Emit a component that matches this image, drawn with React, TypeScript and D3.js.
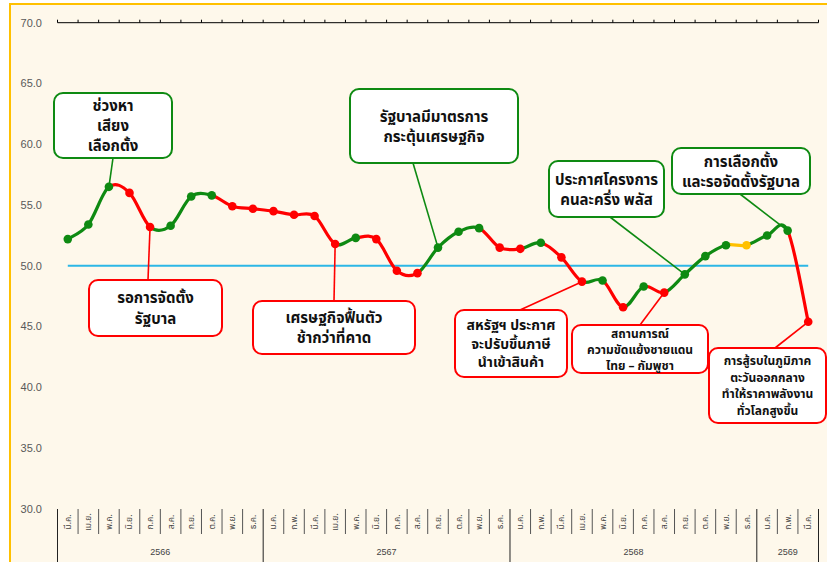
import React, { useEffect, useRef } from 'react';
import * as d3 from 'd3';

// months (Thai abbreviations), grouped by Buddhist-era year
const years = ['2566', '2567', '2568', '2569'];
const monthsByYear: string[][] = [
  ['มี.ค.', 'เม.ย.', 'พ.ค.', 'มิ.ย.', 'ก.ค.', 'ส.ค.', 'ก.ย.', 'ต.ค.', 'พ.ย.', 'ธ.ค.'],
  ['ม.ค.', 'ก.พ.', 'มี.ค.', 'เม.ย.', 'พ.ค.', 'มิ.ย.', 'ก.ค.', 'ส.ค.', 'ก.ย.', 'ต.ค.', 'พ.ย.', 'ธ.ค.'],
  ['ม.ค.', 'ก.พ.', 'มี.ค.', 'เม.ย.', 'พ.ค.', 'มิ.ย.', 'ก.ค.', 'ส.ค.', 'ก.ย.', 'ต.ค.', 'พ.ย.', 'ธ.ค.'],
  ['ม.ค.', 'ก.พ.', 'มี.ค.'],
];

const values = [
  52.2, 53.4, 56.5, 56.0, 53.2, 53.3, 55.7, 55.8, 54.9, 54.7,
  54.5, 54.2, 54.1, 51.8, 52.3, 52.2, 49.6, 49.4, 51.5, 52.8, 53.1, 51.5,
  51.4, 51.9, 50.7, 48.7, 48.8, 46.6, 48.3, 47.8, 49.3, 50.8, 51.7, 51.7,
  52.5, 52.9, 45.4,
];

const yTicks = [30, 35, 40, 45, 50, 55, 60, 65, 70];
const baseline = 50;

// annotations: index of the point, text lines, colour kind
const notes = [
  { idx: 2, lines: ['ช่วงหา', 'เสียง', 'เลือกตั้ง'], kind: 'up' },
  { idx: 4, lines: ['รอการจัดตั้ง', 'รัฐบาล'], kind: 'down' },
  { idx: 13, lines: ['เศรษฐกิจฟื้นตัว', 'ช้ากว่าที่คาด'], kind: 'down' },
  { idx: 18, lines: ['รัฐบาลมีมาตรการ', 'กระตุ้นเศรษฐกิจ'], kind: 'up' },
  { idx: 25, lines: ['สหรัฐฯ ประกาศ', 'จะปรับขึ้นภาษี', 'นำเข้าสินค้า'], kind: 'down' },
  { idx: 29, lines: ['สถานการณ์', 'ความขัดแย้งชายแดน', 'ไทย – กัมพูชา'], kind: 'down' },
  { idx: 30, lines: ['ประกาศโครงการ', 'คนละครึ่ง พลัส'], kind: 'up' },
  { idx: 35, lines: ['การเลือกตั้ง', 'และรอจัดตั้งรัฐบาล'], kind: 'up' },
  { idx: 36, lines: ['การสู้รบในภูมิภาค', 'ตะวันออกกลาง', 'ทำให้ราคาพลังงาน', 'ทั่วโลกสูงขึ้น'], kind: 'down' },
];

// box placement (x, y, w, h, font size, line gap, leader anchor on the box)
const boxes = [
  { x: 54, y: 93, w: 118, h: 65, fs: 15, lh: 20, ax: 113, ay: 158 },
  { x: 89, y: 280, w: 133, h: 56, fs: 15, lh: 21, ax: 148, ay: 280 },
  { x: 253, y: 301, w: 162, h: 53, fs: 15, lh: 20, ax: 334, ay: 301 },
  { x: 350, y: 89, w: 168, h: 74, fs: 15, lh: 20, ax: 413, ay: 163 },
  { x: 455, y: 310, w: 112, h: 67, fs: 14, lh: 18.5, ax: 520, ay: 310 },
  { x: 572, y: 325, w: 136, h: 48, fs: 12, lh: 16, ax: 640, ay: 325 },
  { x: 549, y: 161, w: 115, h: 56, fs: 15, lh: 20, ax: 610, ay: 217 },
  { x: 672, y: 148, w: 138, h: 46, fs: 15, lh: 20, ax: 740, ay: 194 },
  { x: 709, y: 348, w: 117, h: 75, fs: 12, lh: 16.5, ax: 775, ay: 348 },
];

const GREEN = '#0E8A12';
const RED = '#FF0000';
const ORANGE = '#FFC000';
const THAI_FONT = '"Noto Sans Thai", "Noto Sans", Tahoma, sans-serif';

const App: React.FC = () => {
  const svgRef = useRef<SVGSVGElement>(null);
  const width = 827;
  const height = 562;

  useEffect(() => {
    if (!svgRef.current) return;
    d3.select(svgRef.current).selectAll('*').remove();

    const svg = d3.select(svgRef.current);

    // frame
    svg.append('rect')
      .attr('x', 10).attr('y', 4)
      .attr('width', width).attr('height', height)
      .attr('fill', '#FEF8EB')
      .attr('stroke', '#FFC000')
      .attr('stroke-width', 2);

    const labels = monthsByYear.flat();
    const x = d3.scaleBand<number>()
      .domain(d3.range(labels.length))
      .range([57.5, 818.5]);
    const y = d3.scaleLinear().domain([30, 70]).range([509, 22.7]);
    const cx = (i: number) => (x(i) as number) + x.bandwidth() / 2;

    // y labels
    svg.append('g').selectAll('text')
      .data(yTicks)
      .join('text')
      .attr('x', 42)
      .attr('y', d => y(d))
      .attr('dy', '0.35em')
      .attr('text-anchor', 'end')
      .style('font-family', 'Liberation Sans, Arial, sans-serif')
      .style('font-size', '11px')
      .style('fill', '#595959')
      .text(d => d.toFixed(1));

    // top border with ticks
    svg.append('line')
      .attr('x1', x.range()[0]).attr('x2', x.range()[1])
      .attr('y1', y(70)).attr('y2', y(70))
      .attr('stroke', '#000').attr('stroke-width', 1);
    svg.append('g').selectAll('line')
      .data(d3.range(labels.length + 1))
      .join('line')
      .attr('x1', d => x.range()[0] + d * x.step())
      .attr('x2', d => x.range()[0] + d * x.step())
      .attr('y1', y(70) - 3).attr('y2', y(70))
      .attr('stroke', '#000').attr('stroke-width', 1);

    // bottom multi-level category axis
    const yearStarts: number[] = [];
    let acc = 0;
    monthsByYear.forEach(m => { yearStarts.push(acc); acc += m.length; });
    yearStarts.push(acc);

    const axisTop = y(30);
    const bx = (i: number) => x.range()[0] + i * x.step();
    svg.append('g').selectAll('line')
      .data(d3.range(labels.length + 1))
      .join('line')
      .attr('x1', d => bx(d)).attr('x2', d => bx(d))
      .attr('y1', axisTop)
      .attr('y2', d => (yearStarts.includes(d) ? height : axisTop + 25))
      .attr('stroke', d => (yearStarts.includes(d) ? '#222' : '#555'))
      .attr('stroke-width', 1);

    svg.append('g').selectAll('text')
      .data(labels)
      .join('text')
      .attr('transform', (_, i) => `translate(${cx(i) + 3},${axisTop + 13}) rotate(-90)`)
      .attr('text-anchor', 'middle')
      .style('font-family', THAI_FONT)
      .style('font-size', '8.5px')
      .style('fill', '#444')
      .text(d => d);

    svg.append('g').selectAll('text')
      .data(years)
      .join('text')
      .attr('x', (_, i) => (bx(yearStarts[i]) + bx(yearStarts[i + 1])) / 2)
      .attr('y', 552)
      .attr('dy', '0.35em')
      .attr('text-anchor', 'middle')
      .style('font-family', 'Liberation Sans, Arial, sans-serif')
      .style('font-size', '9px')
      .style('fill', '#444')
      .text(d => d);

    // 50 reference line
    svg.append('line')
      .attr('x1', cx(0)).attr('x2', cx(values.length - 1))
      .attr('y1', y(baseline)).attr('y2', y(baseline))
      .attr('stroke', '#2DB7E6').attr('stroke-width', 2);

    // leader lines (behind the boxes)
    notes.forEach((n, k) => {
      const b = boxes[k];
      svg.append('line')
        .attr('x1', b.ax).attr('y1', b.ay)
        .attr('x2', cx(n.idx)).attr('y2', y(values[n.idx]))
        .attr('stroke', n.kind === 'up' ? GREEN : RED)
        .attr('stroke-width', 1.6);
    });

    // smoothed segments, coloured by direction
    const pts = values.map((v, i) => [cx(i), y(v)] as [number, number]);
    const segColor = (i: number) =>
      values[i + 1] > values[i] ? GREEN : values[i + 1] < values[i] ? RED : ORANGE;
    for (let i = 0; i < pts.length - 1; i++) {
      const p0 = pts[Math.max(i - 1, 0)];
      const p1 = pts[i];
      const p2 = pts[i + 1];
      const p3 = pts[Math.min(i + 2, pts.length - 1)];
      const p = d3.path();
      p.moveTo(p1[0], p1[1]);
      p.bezierCurveTo(
        p1[0] + (p2[0] - p0[0]) / 6, p1[1] + (p2[1] - p0[1]) / 6,
        p2[0] - (p3[0] - p1[0]) / 6, p2[1] - (p3[1] - p1[1]) / 6,
        p2[0], p2[1]
      );
      svg.append('path')
        .attr('d', p.toString())
        .attr('fill', 'none')
        .attr('stroke', segColor(i))
        .attr('stroke-width', 3.2)
        .attr('stroke-linecap', 'round');
    }

    svg.append('g').selectAll('circle')
      .data(pts)
      .join('circle')
      .attr('cx', d => d[0]).attr('cy', d => d[1])
      .attr('r', 4.3)
      .attr('fill', (_, i) => (i === 0 ? GREEN : segColor(i - 1)));

    // annotation boxes
    notes.forEach((n, k) => {
      const b = boxes[k];
      const col = n.kind === 'up' ? GREEN : RED;
      const g = svg.append('g');
      g.append('rect')
        .attr('x', b.x).attr('y', b.y)
        .attr('width', b.w).attr('height', b.h)
        .attr('rx', 9)
        .attr('fill', '#fff')
        .attr('stroke', col)
        .attr('stroke-width', 2);
      const midY = b.y + b.h / 2;
      const first = midY - ((n.lines.length - 1) * b.lh) / 2;
      n.lines.forEach((t, j) => {
        g.append('text')
          .attr('x', b.x + b.w / 2)
          .attr('y', first + j * b.lh)
          .attr('dy', '0.38em')
          .attr('text-anchor', 'middle')
          .style('font-family', THAI_FONT)
          .style('font-weight', 'bold')
          .style('font-size', `${b.fs}px`)
          .style('fill', '#111')
          .text(t);
      });
    });
  }, []);

  return (
    <svg
      ref={svgRef}
      width={width}
      height={height}
      style={{ position: 'absolute', left: 0, top: 0 }}
    />
  );
};

export default App;
